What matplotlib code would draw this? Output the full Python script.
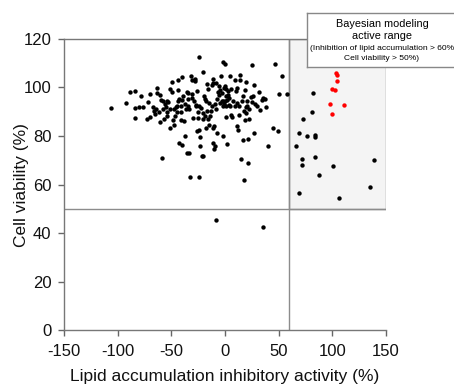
import numpy as np
import matplotlib
matplotlib.use("Agg")
import matplotlib.pyplot as plt
from matplotlib.patches import Rectangle
from matplotlib.lines import Line2D

plt.rcParams['font.family'] = ['Liberation Sans', 'DejaVu Sans']
plt.rcParams['axes.unicode_minus'] = False

# compounds outside the active range (lipid inhibition %, cell viability %)
inactive_x = [
    -106.4, -91.8, -88.7, -84.0, -83.4, -84.3, -78.4, -73.1, -70.0, -69.7,
    -64.7, -65.3, -63.2, -63.8, -61.0, -60.7, -59.7, -58.2, -59.1, -56.6,
    -55.1, -54.4, -52.9, -54.4, -51.0, -51.3, -49.5, -49.2, -48.8, -47.9,
    -46.7, -46.0, -45.1, -43.9, -44.2, -43.6, -42.9, -42.6, -41.4, -40.8,
    -40.1, -39.8, -39.8, -38.9, -38.3, -37.3, -36.4, -35.8, -35.5, -34.8,
    -33.9, -34.2, -33.3, -32.7, -31.7, -31.1, -30.5, -29.6, -28.3, -27.7,
    -27.4, -26.8, -26.4, -26.1, -25.5, -24.3, -24.0, -24.0, -24.0, -23.3,
    -23.3, -22.7, -21.8, -20.8, -20.5, -20.2, -19.6, -18.7, -18.0, -17.4,
    -16.8, -15.6, -15.9, -14.6, -14.0, -13.4, -12.4, -11.5, -10.9, -10.9,
    -10.9, -10.6, -10.0, -9.0, -8.7, -8.4, -7.5, -6.5, -5.9, -5.3,
    -4.7, -3.7, -2.5, -1.9, -1.6, -0.3, -1.2, 0.0, 0.6, 0.6,
    1.2, 1.6, 2.2, 2.8, 3.7, 4.7, 5.3, 5.9, 6.8, 7.8,
    9.0, 10.0, 10.9, 11.2, 12.4, 13.4, 14.0, 14.0, 13.1, 14.9,
    15.9, 17.1, 17.7, 18.7, 19.0, 19.3, 19.6, 20.2, 19.6, 21.2,
    21.8, 22.7, 24.0, 24.9, 27.1, 27.4, 28.0, 32.0, 32.7, 35.8,
    37.3, 38.0, 40.4, 45.1, 47.0, 49.5, 50.7, 53.2, 57.6,
    -3.1, -1.6, -0.6, 0.3, 0.9, 2.5, 3.4, 4.4, -2.2, -5.0,
    -7.8, -9.6, -12.4, -14.9, -16.5, -18.4, -20.8, -25.2, -28.9, -30.8,
    -34.2, -37.0, -41.4, -45.1, -47.6, -51.3, -53.8, -55.7, -57.6, -61.9,
    -66.3, -67.5, -71.9, -76.2, -80.0, 9.3, 11.2, 16.5, 17.7, 20.8,
    22.4, 24.9, 26.4, 29.6, 34.2,
    82.4, 81.2, 72.5, 68.8, 76.8, 84.3, 83.7, 66.6, 71.9, 84.3,
    72.2, 139.1, 101.1, 87.7, 135.6, 69.1, 106.7,
    -8.7, 35.2,
]
inactive_y = [
    91.7, 93.4, 98.0, 98.4, 91.4, 87.5, 96.4, 87.0, 87.8, 97.3,
    91.0, 89.2, 99.9, 97.8, 96.7, 85.6, 94.8, 94.5, 70.8, 87.0,
    92.0, 94.3, 94.0, 88.4, 99.2, 83.3, 98.0, 102.1, 86.7, 84.7,
    88.1, 92.1, 92.5, 103.2, 98.8, 94.3, 95.4, 77.3, 89.9, 86.4,
    76.2, 104.3, 94.7, 96.4, 86.3, 80.0, 91.3, 98.0, 73.1, 97.9,
    73.2, 92.3, 91.0, 63.2, 104.6, 103.2, 97.4, 87.5, 103.5, 102.8,
    92.3, 92.9, 81.9, 98.4, 90.0, 63.3, 112.4, 92.3, 82.6, 79.6,
    76.0, 91.5, 71.7, 89.6, 106.5, 71.6, 96.4, 95.1, 94.3, 83.3,
    101.3, 99.4, 87.1, 84.4, 88.2, 90.4, 101.2, 101.8, 103.6, 83.3,
    77.1, 74.8, 84.2, 75.8, 101.8, 91.2, 81.4, 98.1, 100.5, 97.0,
    98.8, 104.6, 94.6, 80.0, 110.5, 109.8, 99.8, 100.5, 92.4, 87.8,
    96.4, 76.9, 94.7, 98.4, 92.9, 104.6, 99.4, 88.8, 87.8, 94.4,
    103.2, 98.7, 84.2, 99.6, 82.5, 88.6, 105.3, 103.2, 92.4, 70.5,
    94.4, 78.2, 62.1, 86.4, 99.1, 102.1, 91.9, 92.3, 89.3, 69.1,
    78.9, 87.1, 95.9, 109.3, 101.2, 81.2, 93.0, 98.0, 90.7, 95.7,
    95.1, 91.8, 76.1, 83.5, 109.7, 81.9, 97.3, 104.9, 97.4,
    97.8, 94.3, 93.3, 94.3, 99.2, 96.9, 95.6, 92.3, 92.3, 93.7,
    95.1, 93.0, 92.3, 93.7, 90.2, 88.2, 86.9, 87.6, 94.3, 95.7,
    95.1, 93.3, 92.3, 90.1, 91.0, 91.0, 89.9, 93.0, 91.0, 89.9,
    90.2, 92.1, 94.0, 92.1, 92.0, 92.3, 93.6, 96.4, 90.2, 94.3,
    91.0, 93.9, 96.4, 92.3, 94.7,
    97.7, 89.7, 87.0, 81.2, 80.0, 80.3, 79.6, 76.1, 70.6, 71.3,
    68.2, 70.3, 67.8, 64.0, 59.1, 56.5, 54.3,
    45.5, 42.5,
]

# Bayesian-model actives (red)
active_x = [103.6, 104.2, 104.8, 99.6, 103.0, 97.7, 111.4, 100.2]
active_y = [106.0, 105.2, 102.8, 99.5, 99.1, 93.3, 92.8, 88.9]

lipid_cut = 60
viab_cut = 50

fig = plt.figure(figsize=(4.54, 3.85), dpi=100)
ax = fig.add_axes([0.141, 0.142, 0.709, 0.757])

ax.add_patch(Rectangle((lipid_cut, viab_cut), 150 - lipid_cut, 120 - viab_cut,
                       facecolor='#f4f4f4', edgecolor='#8c8c8c', lw=1.0, zorder=0))
ax.axhline(viab_cut, color='#8c8c8c', lw=1.0, zorder=1)
ax.axvline(lipid_cut, color='#8c8c8c', lw=1.0, zorder=1)

ax.scatter(inactive_x, inactive_y, s=10, color='black', lw=0, zorder=3)
ax.scatter(active_x, active_y, s=10, color='red', lw=0, zorder=3)

ax.set_xlim(-150, 150)
ax.set_ylim(0, 120)
ax.set_xticks(np.arange(-150, 151, 50))
ax.set_yticks(np.arange(0, 121, 20))
ax.tick_params(direction='out', length=4, width=1, color='#666666',
               labelsize=12, labelcolor='#111111')
ax.tick_params(axis='x', pad=6)
ax.tick_params(axis='y', pad=5)
for s in ['left', 'bottom', 'top']:
    ax.spines[s].set_color('#777777')
    ax.spines[s].set_linewidth(1.0)
ax.spines['right'].set_visible(False)

ax.set_xlabel('Lipid accumulation inhibitory activity (%)', fontsize=12.5,
              labelpad=7, color='#111111')
ax.set_ylabel('Cell viability (%)', fontsize=12.5, color='#111111')
ax.yaxis.set_label_coords(-0.11, 0.5)

# annotation box in the top right corner, open towards the right edge
bx0, bx1 = 307 / 454, 1.0
by0, by1 = 1 - 67 / 385, 1 - 13 / 385
fig.patches.append(Rectangle((bx0, by0), bx1 - bx0, by1 - by0,
                             transform=fig.transFigure, facecolor='white',
                             edgecolor='none', zorder=1))
for xs, ys in [([bx0, bx1], [by1, by1]), ([bx0, bx1], [by0, by0]),
               ([bx0, bx0], [by0, by1])]:
    fig.add_artist(Line2D(xs, ys, transform=fig.transFigure,
                          color='#888888', lw=1.0, zorder=2))
cx = 382 / 454
fig.text(cx, 1 - 24 / 385, 'Bayesian modeling', ha='center', va='center',
         fontsize=7.8, zorder=6)
fig.text(cx, 1 - 36 / 385, 'active range', ha='center', va='center',
         fontsize=7.8, zorder=6)
fig.text(cx, 1 - 49 / 385, '(Inhibition of lipid accumulation > 60%',
         ha='center', va='center', fontsize=6.1, zorder=6)
fig.text(cx, 1 - 59 / 385, 'Cell viability > 50%)', ha='center', va='center',
         fontsize=6.1, zorder=6)

fig.savefig('out.png', dpi=100)
